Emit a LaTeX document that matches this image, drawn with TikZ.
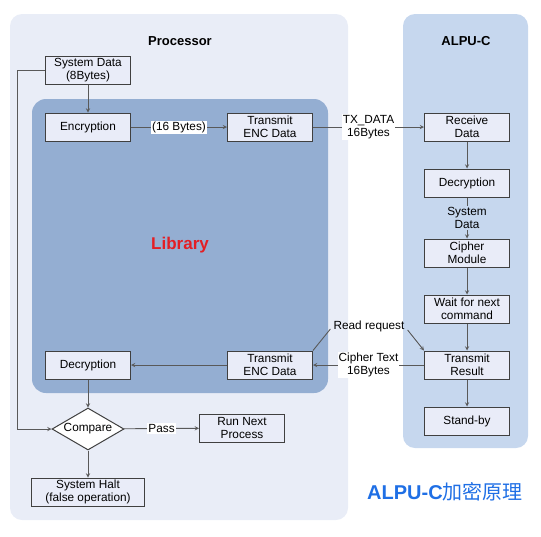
\documentclass[tikz,border=0pt]{standalone}
\usepackage{fontspec}
\setmainfont{Liberation Sans}
\newfontfamily\cjk{Noto Sans CJK SC}
\usetikzlibrary{shapes.geometric, arrows, positioning, calc}
\definecolor{procbg}{HTML}{E9EDF7}
\definecolor{alpubg}{HTML}{C6D7EE}
\definecolor{libbg}{HTML}{94AED2}
\definecolor{boxfill}{HTML}{E9ECF8}
\definecolor{linegray}{HTML}{595959}
\definecolor{libred}{HTML}{E31E24}
\definecolor{titleblue}{HTML}{1F6FE5}

\begin{document}
\begin{tikzpicture}[x=1pt, y=-1pt,
  blk/.style={draw=black!75, line width=1pt, fill=boxfill, minimum width=85pt, minimum height=28pt, align=center, inner sep=1pt, font=\fontsize{11.8}{13.5}\selectfont},
  lbl/.style={fill=white, align=center, inner sep=1pt, font=\fontsize{11.8}{13.5}\selectfont},
  flow/.style={->, >=stealth, draw=linegray, line width=0.9pt}]
\useasboundingbox (0,0) rectangle (541,536);

% Panels
\fill[procbg, rounded corners=12pt] (10,14) rectangle (348,520);
\fill[alpubg, rounded corners=12pt] (403,14) rectangle (528,448);
\fill[libbg, rounded corners=14pt] (32,99) rectangle (328,393);
\node[font=\bfseries\fontsize{13}{15}\selectfont] (proctitle) at (180,41) {Processor};
\node[font=\bfseries\fontsize{13}{15}\selectfont] (alputitle) at (466,41) {ALPU-C};
\node[font=\bfseries\fontsize{17}{19}\selectfont, text=libred] (libtitle) at (180,245) {Library};

% Processor side
\node[blk] (sysdata) at (88,70) {System Data\\(8Bytes)};
\node[blk] (enc) at (88,127) {Encryption};
\node[blk] (txenc1) at (270,127) {Transmit\\ENC Data};
\node[blk] (dec1) at (88,365) {Decryption};
\node[blk] (txenc2) at (270,365) {Transmit\\ENC Data};
\node[draw=black!75, line width=1pt, fill=white, diamond, aspect=1.7, inner sep=0pt, minimum width=72pt, minimum height=42pt, font=\fontsize{11.8}{13.5}\selectfont] (compare) at (88,429) {Compare};
\node[blk] (runnext) at (242,428) {Run Next\\Process};
\node[blk, minimum width=113pt] (halt) at (88,492) {System Halt\\(false operation)};

% ALPU-C side
\node[blk] (recv) at (467,127) {Receive\\Data};
\node[blk] (dec2) at (467,183) {Decryption};
\node[blk] (cipher) at (467,253) {Cipher\\Module};
\node[blk] (wait) at (467,309) {Wait for next\\command};
\node[blk] (txres) at (467,365) {Transmit\\Result};
\node[blk] (standby) at (467,421) {Stand-by};

\draw[flow] (sysdata) -- (enc);
\draw[flow] (enc) -- node[lbl] {(16 Bytes)} (txenc1);
\draw[flow] (txenc1) -- node[lbl] {TX\_DATA\\16Bytes} (recv);
\draw[flow] (recv) -- (dec2);
\draw[flow] (dec2) -- node[lbl, fill=alpubg] {System\\Data} (cipher);
\draw[flow] (cipher) -- (wait);
\draw[flow] (wait) -- (txres);
\draw[flow] (txres) -- (standby);
\draw[flow] (txres) -- node[lbl] {Cipher Text\\16Bytes} (txenc2);
\draw[flow] (txenc2) -- (dec1);
\draw[flow] (dec1) -- (compare);
\draw[flow] (compare) -- node[lbl] {Pass} (runnext);
\draw[flow] (compare) -- (halt);
\draw[flow] (sysdata.west) -- ++(-28,0) |- (compare.west);

% Read request
\node[lbl, fill=none] (readreq) at (369,326) {Read request};
\draw[draw=linegray, line width=0.9pt] ($(readreq.west)+(-2,3)$) -- (txenc2.north east);
\draw[flow] ($(readreq.east)+(2,4)$) -- (txres.north west);

\node[text=titleblue, font=\fontsize{20}{22}\selectfont] (caption) at (445,492) {\textbf{ALPU-C}{\cjk 加密原理}};
\end{tikzpicture}
\end{document}
